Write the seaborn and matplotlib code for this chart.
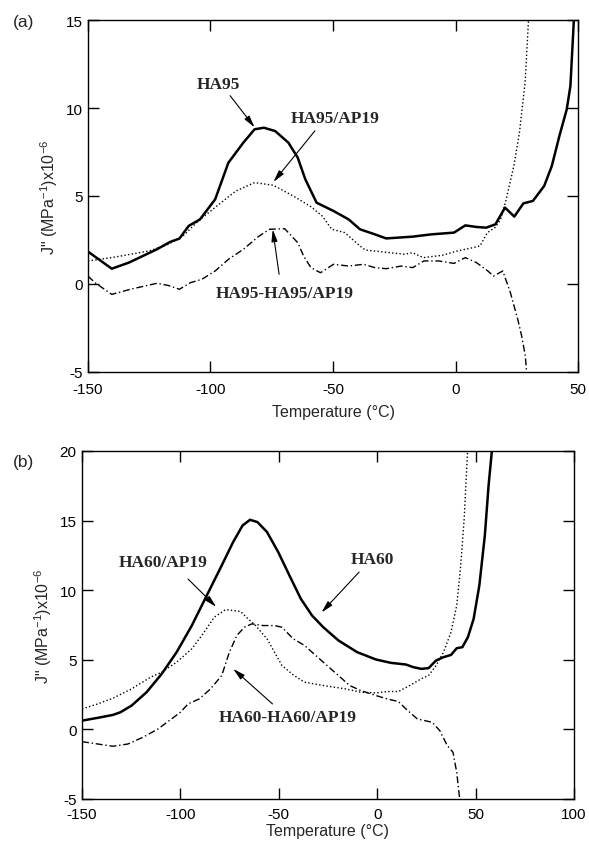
import numpy as np
import pandas as pd
import matplotlib
matplotlib.use("Agg")
import matplotlib.pyplot as plt
import seaborn as sns

# ---------------- data: panel (a) ----------------
ha95_x = [-150, -140.3, -133.4, -121.9, -116.5, -112.7, -108.9, -104.3, -98.1, -92.7, -86.6, -82.0, -78.2,
          -73.6, -68.2, -64.4, -61.3, -56.7, -49.8, -43.6, -39.0, -32.9, -28.3, -17.5, -9.9, -0.6, 4.0,
          8.6, 12.5, 16.3, 20.2, 24.0, 27.7, 31.6, 36.2, 39.3, 42.4, 45.4, 46.9, 48.5]
ha95_y = [1.84, 0.87, 1.21, 1.97, 2.39, 2.58, 3.30, 3.67, 4.81, 6.89, 8.03, 8.79, 8.88,
          8.69, 8.03, 7.18, 5.95, 4.62, 4.15, 3.67, 3.11, 2.82, 2.59, 2.69, 2.82, 2.92, 3.33,
          3.24, 3.20, 3.39, 4.34, 3.83, 4.58, 4.72, 5.57, 6.70, 8.41, 9.92, 11.25, 15.5]

ha95ap_x = [-150, -140.3, -125.0, -117.3, -111.2, -105.0, -97.4, -89.7, -82.0, -74.3, -65.1, -59.0, -54.4,
            -50.5, -45.2, -39.0, -36.8, -26.8, -20.7, -17.6, -13.1, -5.4, 0.8, 5.4, 10.0, 13.0, 16.1,
            18.4, 20.7, 23.8, 26.1, 28.4, 30.0]
ha95ap_y = [1.31, 1.50, 1.88, 2.25, 2.73, 3.58, 4.43, 5.28, 5.76, 5.61, 4.91, 4.39, 3.86,
            3.11, 2.92, 2.16, 1.93, 1.78, 1.69, 1.78, 1.50, 1.63, 1.88, 2.01, 2.16, 2.92, 3.20,
            3.67, 4.81, 6.70, 8.60, 11.44, 15.5]

diff95_x = [-150, -147.2, -140.3, -132.7, -121.9, -117.3, -112.7, -108.1, -103.5, -98.1, -92.7, -86.6,
            -80.5, -75.9, -69.7, -64.4, -62.0, -59.0, -55.1, -49.8, -43.6, -37.5, -32.9, -28.3, -22.1,
            -17.5, -12.9, -6.8, -0.6, 4.0, 8.6, 13.2, 15.5, 19.3, 22.4, 25.4, 27.0, 28.5, 29.3]
diff95_y = [0.45, 0.08, -0.59, -0.30, 0.04, -0.08, -0.30, 0.08, 0.27, 0.74, 1.40, 1.97,
            2.69, 3.11, 3.14, 2.35, 1.59, 0.93, 0.64, 1.12, 1.02, 1.12, 0.93, 0.87, 1.02,
            0.93, 1.31, 1.31, 1.17, 1.50, 1.21, 0.74, 0.45, 0.74, -0.49, -2.0, -2.95, -4.09, -5.5]

# ---------------- data: panel (b) ----------------
ha60_x = [-150, -142.0, -134.3, -130.5, -124.8, -117.2, -109.5, -101.9, -94.2, -86.6, -79.0, -73.2, -68.4,
          -64.6, -60.8, -56.0, -50.3, -44.6, -38.8, -33.1, -27.4, -19.7, -10.2, -0.6, 7.0, 14.6, 18.4,
          22.3, 26.1, 29.9, 33.7, 37.5, 40.4, 43.3, 46.1, 49.0, 51.9, 54.7, 56.6, 58.6]
ha60_y = [0.63, 0.83, 1.04, 1.23, 1.71, 2.67, 3.99, 5.55, 7.46, 9.62, 11.78, 13.46, 14.65,
          15.06, 14.89, 14.18, 12.74, 11.06, 9.38, 8.18, 7.34, 6.39, 5.55, 5.02, 4.78, 4.66, 4.47,
          4.35, 4.40, 4.95, 5.19, 5.35, 5.83, 5.91, 6.63, 7.94, 10.34, 13.94, 17.53, 20.5]

ha60ap_x = [-150, -142.0, -134.3, -124.8, -115.2, -109.5, -101.9, -94.2, -88.5, -82.8, -77.0, -69.4, -65.6,
            -61.8, -56.0, -52.2, -48.4, -42.7, -36.9, -29.3, -21.7, -16.1, -8.3, -0.6, 5.1, 10.8, 16.5,
            22.3, 26.1, 29.9, 33.7, 37.5, 40.4, 42.3, 44.2, 46.1]
ha60ap_y = [1.47, 1.83, 2.24, 2.91, 3.75, 4.11, 4.83, 5.79, 6.87, 8.06, 8.61, 8.47, 7.94,
            7.46, 6.51, 5.55, 4.59, 3.92, 3.39, 3.20, 3.03, 2.91, 2.67, 2.62, 2.72, 2.72, 3.15,
            3.63, 3.87, 4.59, 5.55, 6.98, 8.90, 11.54, 15.13, 20.5]

diff60_x = [-150, -142.0, -134.3, -126.7, -119.1, -111.4, -105.7, -100.0, -96.1, -90.4, -84.7, -79.0,
            -75.1, -71.3, -67.5, -63.7, -58.0, -52.2, -48.4, -42.7, -36.9, -31.2, -25.5, -19.7, -14.0,
            -8.3, -0.6, 5.1, 10.8, 14.6, 20.4, 28.0, 31.8, 35.6, 38.5, 40.4, 42.3]
diff60_y = [-0.88, -1.05, -1.21, -1.05, -0.57, 0.03, 0.63, 1.23, 1.83, 2.19, 2.91, 3.87,
            5.55, 6.75, 7.34, 7.58, 7.46, 7.46, 7.34, 6.51, 6.03, 5.31, 4.59, 3.87, 3.15,
            2.79, 2.43, 2.19, 2.00, 1.47, 0.75, 0.51, -0.09, -1.16, -1.64, -3.08, -5.5]

xticks_a = [-150, -100, -50, 0, 50]
yticks_a = [-5, 0, 5, 10, 15]
xticks_b = [-150, -100, -50, 0, 50, 100]
yticks_b = [-5, 0, 5, 10, 15, 20]

ylabel = r'J" (MPa$^{-1}$)x10$^{-6}$'
xlabel = "Temperature (°C)"

# ---------------- style ----------------
sns.set_theme(style="ticks")
plt.rcParams["font.family"] = ["Liberation Sans", "DejaVu Sans"]
plt.rcParams["mathtext.fontset"] = "custom"
plt.rcParams["mathtext.rm"] = "Liberation Sans"
plt.rcParams["mathtext.it"] = "Liberation Sans"
plt.rcParams["mathtext.default"] = "regular"

fig = plt.figure(figsize=(5.89, 8.45), dpi=100)
ax_a = fig.add_axes([88 / 589, 1 - 373 / 845, 490 / 589, 352 / 845])
ax_b = fig.add_axes([82 / 589, 1 - 800 / 845, 492 / 589, 348 / 845])

dashdot = (0, (5, 2, 1, 2))


def draw(ax, series, xlim, ylim, xt, yt, xpad, xlabelpad):
    for xs, ys, ls, lw in series:
        df = pd.DataFrame({"T": xs, "J": ys})
        sns.lineplot(data=df, x="T", y="J", ax=ax, color="black", linestyle=ls,
                     linewidth=lw, sort=False, estimator=None)
    ax.set_xlim(*xlim)
    ax.set_ylim(*ylim)
    ax.set_xticks(xt)
    ax.set_yticks(yt)
    ax.set_xticklabels([str(v) for v in xt])
    ax.set_yticklabels([str(v) for v in yt])
    ax.tick_params(direction="in", top=True, right=True, length=8, width=1,
                   labelsize=11, colors="black")
    ax.tick_params(axis="x", pad=xpad)
    ax.tick_params(axis="y", pad=4)
    for s in ax.spines.values():
        s.set_linewidth(1.0)
        s.set_color("black")
    ax.set_xlabel(xlabel, fontsize=11.5, labelpad=xlabelpad)
    ax.set_ylabel(ylabel, fontsize=11.5, labelpad=4)


draw(ax_a, [(ha95_x, ha95_y, "-", 1.8),
            (ha95ap_x, ha95ap_y, ":", 1.0),
            (diff95_x, diff95_y, dashdot, 1.0)],
     (-150, 50), (-5, 15), xticks_a, yticks_a, 7, 6)

draw(ax_b, [(ha60_x, ha60_y, "-", 1.8),
            (ha60ap_x, ha60ap_y, ":", 1.0),
            (diff60_x, diff60_y, dashdot, 1.0)],
     (-150, 100), (-5, 20), xticks_b, yticks_b, 6, 1)

arrowprops = dict(arrowstyle="-|>,head_length=0.6,head_width=0.15", color="black",
                  lw=0.8, shrinkA=0, shrinkB=0)
labfont = dict(family="Liberation Serif", weight="bold", fontsize=12.5)

# panel (a) annotations
ax_a.text(-96.6, 11.35, "HA95", ha="center", va="center", **labfont)
ax_a.annotate("", xy=(-82.0, 8.9), xytext=(-92.0, 10.7), arrowprops=arrowprops)
ax_a.text(-49.0, 9.45, "HA95/AP19", ha="center", va="center", **labfont)
ax_a.annotate("", xy=(-74.3, 5.8), xytext=(-57.4, 8.7), arrowprops=arrowprops)
ax_a.text(-69.7, -0.49, "HA95-HA95/AP19", ha="center", va="center", **labfont)
ax_a.annotate("", xy=(-74.6, 3.1), xytext=(-72.0, 0.55), arrowprops=arrowprops)

# panel (b) annotations
ax_b.text(-108.6, 12.0, "HA60/AP19", ha="center", va="center", **labfont)
ax_b.annotate("", xy=(-81.8, 8.8), xytext=(-96.1, 10.8), arrowprops=arrowprops)
ax_b.text(-2.6, 12.26, "HA60", ha="center", va="center", **labfont)
ax_b.annotate("", xy=(-28.3, 8.4), xytext=(-9.2, 11.3), arrowprops=arrowprops)
ax_b.text(-45.5, 0.87, "HA60-HA60/AP19", ha="center", va="center", **labfont)
ax_b.annotate("", xy=(-73.2, 4.35), xytext=(-53.2, 1.83), arrowprops=arrowprops)

fig.text(13 / 589, 1 - 22 / 845, "(a)", fontsize=12.5, ha="left", va="center")
fig.text(13 / 589, 1 - 463 / 845, "(b)", fontsize=12.5, ha="left", va="center")

fig.savefig("out.png", dpi=100, facecolor="white")
